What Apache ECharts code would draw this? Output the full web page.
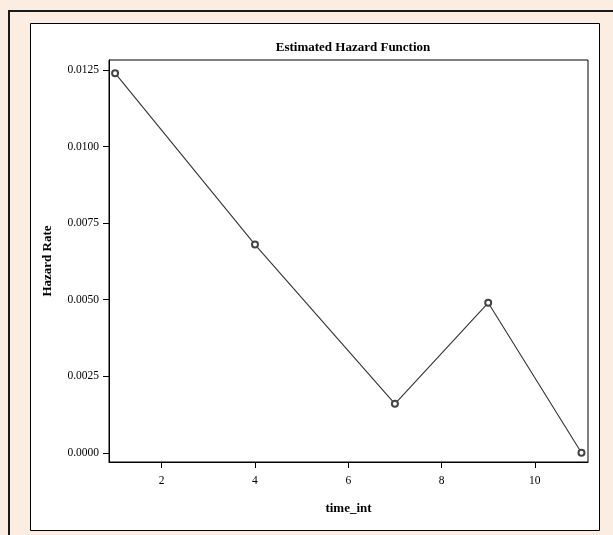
<!DOCTYPE html>
<html>
<head>
<meta charset="utf-8">
<title>Estimated Hazard Function</title>
<script src="https://cdn.jsdelivr.net/npm/echarts@6/dist/echarts.min.js"></script>
<style>
	* {
		margin: 0;
		padding: 0;
	}

	#main {
		width: 613px;
		height: 535px;
	}
</style>
</head>
<body>
<div id="main"></div>
<script>
	// values
	var timeInt = [1, 4, 7, 9, 11];
	var hazardRate = [0.0124, 0.0068, 0.0016, 0.0049, 0.0000];
	var xTicks = [2, 4, 6, 8, 10];
	var yTicks = [0, 0.0025, 0.0050, 0.0075, 0.0100, 0.0125];

	var points = timeInt.map(function(t, i) {
		return [t, hazardRate[i]];
	});

	var serif = '"Liberation Serif", "DejaVu Serif", serif';

	var chart = echarts.init(document.getElementById('main'));
	chart.setOption({
		backgroundColor: '#fcede2',
		animation: false,
		graphic: [{
			type: 'rect',
			z: -1,
			shape: { x: 30.5, y: 23.5, width: 569, height: 507 },
			style: { fill: '#ffffff', stroke: '#000000', lineWidth: 1 }
		}, {
			type: 'polyline',
			z: -1,
			shape: { points: [[9, 535], [9, 11], [613, 11]] },
			style: { fill: null, stroke: '#1a1a1a', lineWidth: 2 }
		}],
		title: {
			text: 'Estimated Hazard Function',
			left: 348,
			top: 36,
			textAlign: 'center',
			textStyle: {
				fontFamily: serif,
				fontSize: 13,
				fontWeight: 'bold',
				color: '#000'
			}
		},
		grid: {
			left: 109,
			top: 60,
			width: 479,
			height: 402,
			show: true,
			backgroundColor: 'transparent',
			borderColor: '#000',
			borderWidth: 1
		},
		xAxis: {
			type: 'value',
			min: 0.87,
			max: 11.14,
			name: 'time_int',
			nameLocation: 'middle',
			nameGap: 40,
			nameTextStyle: {
				fontFamily: serif,
				fontSize: 13,
				fontWeight: 'bold',
				color: '#000'
			},
			splitLine: { show: false },
			axisLine: { show: true, onZero: false, lineStyle: { color: '#000', width: 1 } },
			axisTick: {
				show: true,
				length: 6,
				customValues: xTicks,
				lineStyle: { color: '#000' }
			},
			axisLabel: {
				customValues: xTicks,
				margin: 13,
				fontFamily: serif,
				fontSize: 11.5,
				color: '#000'
			}
		},
		yAxis: {
			type: 'value',
			min: -0.0003,
			max: 0.01283,
			name: 'Hazard Rate',
			nameLocation: 'middle',
			nameGap: 55,
			nameTextStyle: {
				fontFamily: serif,
				fontSize: 13,
				fontWeight: 'bold',
				color: '#000'
			},
			splitLine: { show: false },
			axisLine: { show: true, onZero: false, lineStyle: { color: '#000', width: 1 } },
			axisTick: {
				show: true,
				length: 6,
				customValues: yTicks,
				lineStyle: { color: '#000' }
			},
			axisLabel: {
				customValues: yTicks,
				margin: 10,
				fontFamily: serif,
				fontSize: 11.5,
				color: '#000',
				formatter: function(v) {
					return v.toFixed(4);
				}
			}
		},
		series: [{
			type: 'line',
			data: points,
			symbol: 'emptyCircle',
			symbolSize: 6,
			lineStyle: { color: '#333', width: 1.1 },
			itemStyle: { color: '#444', borderColor: '#444', borderWidth: 0.9 }
		}]
	});
</script>
</body>
</html>
